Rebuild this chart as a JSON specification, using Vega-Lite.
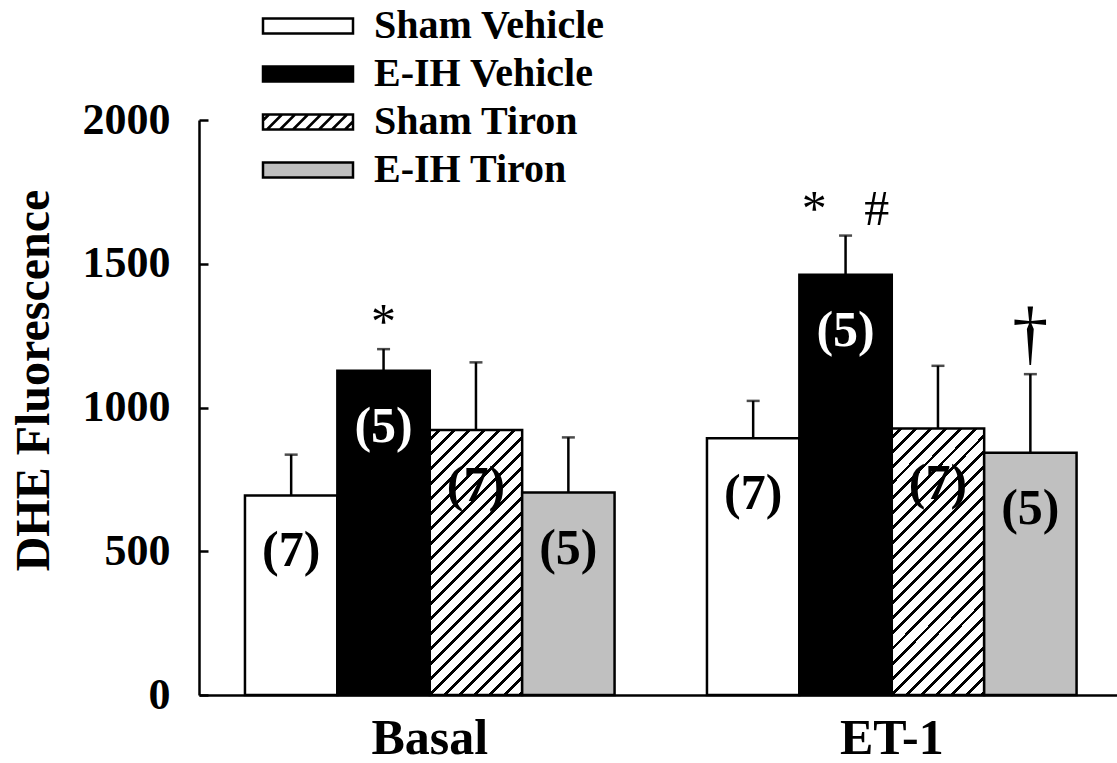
{
  "$schema": "https://vega.github.io/schema/vega-lite/v6.json",
  "width": 918,
  "height": 575,
  "autosize": "none",
  "padding": {"left": 199, "top": 120, "right": 0, "bottom": 68},
  "background": "white",
  "config": {"view": {"stroke": null}, "font": "Liberation Serif"},
  "data": {
    "values": [
      {"cond": "Basal", "group": "Sham Vehicle", "mean": 694, "upper": 836, "n": "(7)", "sig": ""},
      {"cond": "Basal", "group": "E-IH Vehicle", "mean": 1128, "upper": 1203, "n": "(5)", "sig": "*"},
      {"cond": "Basal", "group": "Sham Tiron", "mean": 922, "upper": 1157, "n": "(7)", "sig": ""},
      {"cond": "Basal", "group": "E-IH Tiron", "mean": 704, "upper": 896, "n": "(5)", "sig": ""},
      {"cond": "ET-1", "group": "Sham Vehicle", "mean": 893, "upper": 1023, "n": "(7)", "sig": ""},
      {"cond": "ET-1", "group": "E-IH Vehicle", "mean": 1462, "upper": 1598, "n": "(5)", "sig": "*\u00a0\u00a0\u00a0#"},
      {"cond": "ET-1", "group": "Sham Tiron", "mean": 927, "upper": 1145, "n": "(7)", "sig": ""},
      {"cond": "ET-1", "group": "E-IH Tiron", "mean": 843, "upper": 1116, "n": "(5)", "sig": "\u2020"}
    ]
  },
  "encoding": {
    "x": {
      "field": "cond",
      "type": "nominal",
      "sort": ["Basal", "ET-1"],
      "scale": {"paddingInner": 0.2, "paddingOuter": 0.0935, "align": 0.532},
      "axis": {
        "title": null,
        "ticks": false,
        "grid": false,
        "domainColor": "black",
        "domainWidth": 2.5,
        "labelAngle": 0,
        "labelFont": "Liberation Serif",
        "labelFontWeight": "bold",
        "labelFontSize": 50,
        "labelColor": "black",
        "labelBaseline": "alphabetic",
        "labelPadding": 58
      }
    },
    "xOffset": {
      "field": "group",
      "type": "nominal",
      "sort": ["Sham Vehicle", "E-IH Vehicle", "Sham Tiron", "E-IH Tiron"],
      "scale": {"paddingInner": 0, "paddingOuter": 0}
    },
    "y": {
      "field": "mean",
      "type": "quantitative",
      "scale": {"domain": [0, 2000], "nice": false},
      "axis": {
        "title": "DHE Fluorescence",
        "values": [0, 500, 1000, 1500, 2000],
        "format": "d",
        "grid": false,
        "tickSize": -9,
        "tickWidth": 2.5,
        "tickColor": "black",
        "domainColor": "black",
        "domainWidth": 2.5,
        "labelFont": "Liberation Serif",
        "labelFontWeight": "bold",
        "labelFontSize": 44,
        "labelColor": "black",
        "labelPadding": 38,
        "titleFont": "Liberation Serif",
        "titleFontWeight": "bold",
        "titleFontSize": 48,
        "titleColor": "black",
        "titleX": -151,
        "titleY": 260,
        "titleAlign": "center",
        "titleBaseline": "alphabetic"
      }
    }
  },
  "layer": [
    {
      "mark": {"type": "point", "filled": true, "opacity": 0, "size": 900, "strokeWidth": 2.5},
      "encoding": {
        "fill": {
          "field": "group",
          "type": "nominal",
          "scale": {
            "domain": ["Sham Vehicle", "E-IH Vehicle", "Sham Tiron", "E-IH Tiron"],
            "range": ["#ffffff", "#000000", "#ffffff", "#c0c0c0"]
          },
          "legend": {
            "orient": "none",
            "legendX": 89,
            "legendY": -114,
            "direction": "vertical",
            "title": null,
            "symbolSize": 900,
            "symbolStrokeWidth": 2.5,
            "symbolOpacity": 1,
            "labelFont": "Liberation Serif",
            "labelFontWeight": "bold",
            "labelFontSize": 40,
            "labelColor": "black",
            "labelOffset": 46,
            "labelLimit": 0,
            "rowPadding": 8
          }
        },
        "stroke": {
          "field": "group",
          "type": "nominal",
          "scale": {
            "domain": ["Sham Vehicle", "E-IH Vehicle", "Sham Tiron", "E-IH Tiron"],
            "range": ["#000000", "#000000", "#000000", "#000000"]
          },
          "legend": {
            "orient": "none",
            "legendX": 89,
            "legendY": -114,
            "direction": "vertical",
            "title": null,
            "symbolSize": 900,
            "symbolStrokeWidth": 2.5,
            "symbolOpacity": 1,
            "labelFont": "Liberation Serif",
            "labelFontWeight": "bold",
            "labelFontSize": 40,
            "labelColor": "black",
            "labelOffset": 46,
            "labelLimit": 0,
            "rowPadding": 8
          }
        },
        "shape": {
          "field": "group",
          "type": "nominal",
          "scale": {
            "domain": ["Sham Vehicle", "E-IH Vehicle", "Sham Tiron", "E-IH Tiron"],
            "range": [
              "M-3,-0.5L3,-0.5L3,0.5L-3,0.5Z",
              "M-3,-0.5L3,-0.5L3,0.5L-3,0.5Z",
              "M-3,-0.5L3,-0.5L3,0.5L-3,0.5ZM-3,-0.1L-2.6,-0.5M-2.733,0.5L-1.733,-0.5M-1.867,0.5L-0.867,-0.5M-1,0.5L0,-0.5M-0.133,0.5L0.867,-0.5M0.733,0.5L1.733,-0.5M1.6,0.5L2.6,-0.5M2.467,0.5L3,-0.033",
              "M-3,-0.5L3,-0.5L3,0.5L-3,0.5Z"
            ]
          },
          "legend": {
            "orient": "none",
            "legendX": 89,
            "legendY": -114,
            "direction": "vertical",
            "title": null,
            "symbolSize": 900,
            "symbolStrokeWidth": 2.5,
            "symbolOpacity": 1,
            "labelFont": "Liberation Serif",
            "labelFontWeight": "bold",
            "labelFontSize": 40,
            "labelColor": "black",
            "labelOffset": 46,
            "labelLimit": 0,
            "rowPadding": 8
          }
        }
      }
    },
    {
      "mark": {"type": "bar", "stroke": "black", "strokeWidth": 2.5},
      "encoding": {
        "fill": {
          "condition": {
            "test": "datum.group === 'Sham Tiron'",
            "value": {
              "gradient": "linear", "x1": 0, "y1": 0, "x2": 0.4185, "y2": 1.2024,
              "stops": [
                {"offset": 0, "color": "#fff"},
                {"offset": 0.021, "color": "#fff"}, {"offset": 0.021, "color": "#000"}, {"offset": 0.032, "color": "#000"}, {"offset": 0.032, "color": "#fff"},
                {"offset": 0.063, "color": "#fff"}, {"offset": 0.063, "color": "#000"}, {"offset": 0.074, "color": "#000"}, {"offset": 0.074, "color": "#fff"},
                {"offset": 0.105, "color": "#fff"}, {"offset": 0.105, "color": "#000"}, {"offset": 0.116, "color": "#000"}, {"offset": 0.116, "color": "#fff"},
                {"offset": 0.147, "color": "#fff"}, {"offset": 0.147, "color": "#000"}, {"offset": 0.158, "color": "#000"}, {"offset": 0.158, "color": "#fff"},
                {"offset": 0.189, "color": "#fff"}, {"offset": 0.189, "color": "#000"}, {"offset": 0.2, "color": "#000"}, {"offset": 0.2, "color": "#fff"},
                {"offset": 0.231, "color": "#fff"}, {"offset": 0.231, "color": "#000"}, {"offset": 0.242, "color": "#000"}, {"offset": 0.242, "color": "#fff"},
                {"offset": 0.273, "color": "#fff"}, {"offset": 0.273, "color": "#000"}, {"offset": 0.284, "color": "#000"}, {"offset": 0.284, "color": "#fff"},
                {"offset": 0.315, "color": "#fff"}, {"offset": 0.315, "color": "#000"}, {"offset": 0.326, "color": "#000"}, {"offset": 0.326, "color": "#fff"},
                {"offset": 0.357, "color": "#fff"}, {"offset": 0.357, "color": "#000"}, {"offset": 0.368, "color": "#000"}, {"offset": 0.368, "color": "#fff"},
                {"offset": 0.399, "color": "#fff"}, {"offset": 0.399, "color": "#000"}, {"offset": 0.41, "color": "#000"}, {"offset": 0.41, "color": "#fff"},
                {"offset": 0.441, "color": "#fff"}, {"offset": 0.441, "color": "#000"}, {"offset": 0.452, "color": "#000"}, {"offset": 0.452, "color": "#fff"},
                {"offset": 0.483, "color": "#fff"}, {"offset": 0.483, "color": "#000"}, {"offset": 0.494, "color": "#000"}, {"offset": 0.494, "color": "#fff"},
                {"offset": 0.525, "color": "#fff"}, {"offset": 0.525, "color": "#000"}, {"offset": 0.536, "color": "#000"}, {"offset": 0.536, "color": "#fff"},
                {"offset": 0.567, "color": "#fff"}, {"offset": 0.567, "color": "#000"}, {"offset": 0.578, "color": "#000"}, {"offset": 0.578, "color": "#fff"},
                {"offset": 0.609, "color": "#fff"}, {"offset": 0.609, "color": "#000"}, {"offset": 0.62, "color": "#000"}, {"offset": 0.62, "color": "#fff"},
                {"offset": 0.651, "color": "#fff"}, {"offset": 0.651, "color": "#000"}, {"offset": 0.662, "color": "#000"}, {"offset": 0.662, "color": "#fff"},
                {"offset": 0.693, "color": "#fff"}, {"offset": 0.693, "color": "#000"}, {"offset": 0.704, "color": "#000"}, {"offset": 0.704, "color": "#fff"},
                {"offset": 0.735, "color": "#fff"}, {"offset": 0.735, "color": "#000"}, {"offset": 0.746, "color": "#000"}, {"offset": 0.746, "color": "#fff"},
                {"offset": 0.777, "color": "#fff"}, {"offset": 0.777, "color": "#000"}, {"offset": 0.788, "color": "#000"}, {"offset": 0.788, "color": "#fff"},
                {"offset": 0.819, "color": "#fff"}, {"offset": 0.819, "color": "#000"}, {"offset": 0.83, "color": "#000"}, {"offset": 0.83, "color": "#fff"},
                {"offset": 0.861, "color": "#fff"}, {"offset": 0.861, "color": "#000"}, {"offset": 0.872, "color": "#000"}, {"offset": 0.872, "color": "#fff"},
                {"offset": 0.903, "color": "#fff"}, {"offset": 0.903, "color": "#000"}, {"offset": 0.914, "color": "#000"}, {"offset": 0.914, "color": "#fff"},
                {"offset": 0.945, "color": "#fff"}, {"offset": 0.945, "color": "#000"}, {"offset": 0.956, "color": "#000"}, {"offset": 0.956, "color": "#fff"},
                {"offset": 0.987, "color": "#fff"}, {"offset": 0.987, "color": "#000"}, {"offset": 0.998, "color": "#000"}, {"offset": 0.998, "color": "#fff"},
                {"offset": 1, "color": "#fff"}
              ]
            }
          },
          "field": "group",
          "type": "nominal",
          "legend": null,
          "scale": {
            "domain": ["Sham Vehicle", "E-IH Vehicle", "Sham Tiron", "E-IH Tiron"],
            "range": ["#ffffff", "#000000", "#ffffff", "#c0c0c0"]
          }
        }
      }
    },
    {
      "mark": {"type": "rule", "color": "black", "strokeWidth": 2.5},
      "encoding": {"y2": {"field": "upper"}}
    },
    {
      "mark": {"type": "tick", "color": "black", "size": 13, "thickness": 2.5},
      "encoding": {"y": {"field": "upper", "type": "quantitative"}}
    },
    {
      "mark": {"type": "text", "font": "Liberation Serif", "fontWeight": "bold", "fontSize": 50, "baseline": "middle", "align": "center", "dy": 56},
      "encoding": {
        "text": {"field": "n"},
        "color": {"condition": {"test": "datum.group === 'E-IH Vehicle'", "value": "white"}, "value": "black"}
      }
    },
    {
      "transform": [{"filter": "datum.sig !== '\u2020'"}],
      "mark": {"type": "text", "font": "Liberation Serif", "fontSize": 50, "baseline": "alphabetic", "align": "center", "dy": -11, "color": "black"},
      "encoding": {
        "y": {"field": "upper", "type": "quantitative"},
        "text": {"field": "sig"}
      }
    },
    {
      "transform": [{"filter": "datum.sig === '\u2020'"}],
      "mark": {"type": "text", "font": "Liberation Serif", "fontSize": 72, "baseline": "alphabetic", "align": "center", "dy": -17, "color": "black"},
      "encoding": {
        "y": {"field": "upper", "type": "quantitative"},
        "text": {"field": "sig"}
      }
    }
  ]
}
